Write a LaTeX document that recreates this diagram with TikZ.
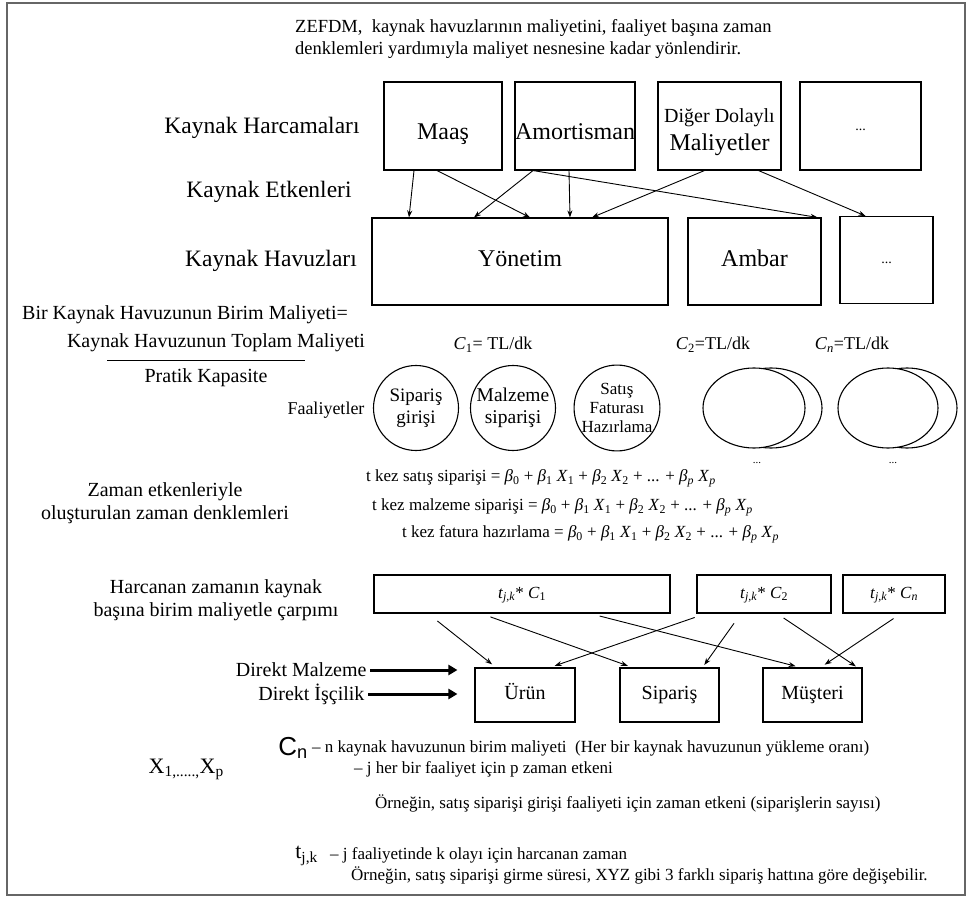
\documentclass[tikz,border=0pt]{standalone}
\usepackage{fontspec}
\setmainfont{Liberation Serif}
\setsansfont{Liberation Sans}
\usetikzlibrary{arrows.meta,positioning,calc,shapes.geometric}

\newcommand{\fsz}[1]{\fontsize{#1}{1.15\dimexpr #1pt\relax}\selectfont}
\newcommand{\bx}[1]{\textit{β}\textsubscript{#1}}
\newcommand{\xv}[1]{\textit{X}\textsubscript{#1}}
\newcommand{\eqrhs}{\bx{0} + \bx{1} \xv{1} + \bx{2} \xv{2} + ... + \bx{\textit{p}} \xv{\textit{p}}}
\newcommand{\tjk}{\textit{t}\textsubscript{\textit{j,k}}}

\tikzset{
    % Base box style
    box/.style={
        rectangle,
        draw=black,
        line width=1.1pt,
        fill=white,
        align=center,
        inner sep=0pt
    },
    % Resource expense boxes
    expense/.style={box, minimum width=120pt, minimum height=88pt, font=\fsz{24}},
    % Resource pool boxes
    pool/.style={box, minimum height=87pt, font=\fsz{24}, text height=16pt, text depth=5pt},
    % Activity circles
    activity/.style={circle, draw=black, line width=1.1pt, minimum size=85pt,
        inner sep=0pt, align=center},
    % Rate boxes and cost objects
    rate/.style={box, minimum height=38pt, font=\fsz{17}, text height=12pt, text depth=4pt},
    costobj/.style={box, minimum height=54pt, font=\fsz{20}, text height=14pt, text depth=5pt},
    % Arrow styles
    flow/.style={-{Stealth[length=7pt, width=5pt]}, line width=0.9pt},
    feed/.style={-{Triangle[length=9pt, width=10pt]}, line width=3pt},
    % Label styles
    side label/.style={font=\fsz{23.5}, align=center},
    note text/.style={font=\fsz{17}, anchor=west, inner sep=0pt}
}

\begin{document}
\begin{tikzpicture}[x=1pt, y=-1pt]
        \useasboundingbox (0,0) rectangle (972,901);
        % Outer frame
        \draw[line width=2pt, black!60] (7,3) rectangle (965,895);

        % Heading
        \node[font=\fsz{18.5}, align=left, anchor=west, inner sep=0pt] (heading) at (295,39)
            {ZEFDM,\ \ kaynak havuzlarının maliyetini, faaliyet başına zaman\\denklemleri yardımıyla maliyet nesnesine kadar yönlendirir.};

        % Resource expenses
        \node[side label] (harcama) at (262,128) {Kaynak Harcamaları};
        \node[expense, minimum width=118pt, text height=28pt, text depth=0pt] (maas) at (443,126) {Maaş};
        \node[expense, text height=27pt, text depth=0pt] (amort) at (575,126) {Amortisman};
        \node[expense, minimum width=123pt] (diger) at (719.5,126) {};
        \node[font=\fsz{24}, align=center, inner sep=0pt] (digertxt) at ([yshift=-6pt]diger.center) {{\fsz{20}Diğer Dolaylı}\\Maliyetler};
        \node[expense, minimum width=121pt, font=\fsz{14}, text height=10pt, text depth=0pt] (hdots) at (860.5,126) {...};

        % Resource pools
        \node[side label] (etken) at (269,192) {Kaynak Etkenleri};
        \node[side label] (havuz) at (271,261) {Kaynak Havuzları};
        \node[pool, minimum width=296pt] (yonetim) at (520,261.5) {Yönetim};
        \node[pool, minimum width=133pt] (ambar) at (754.5,261.5) {Ambar};
        \node[pool, minimum width=93pt, font=\fsz{14}, text height=8pt, text depth=0pt] (pdots) at (886.5,260) {...};

        \draw[flow] ([xshift=-29pt]maas.south) -- ([xshift=-111pt]yonetim.north);
        \draw[flow] ([xshift=-6pt]maas.south) -- ([xshift=10pt]yonetim.north);
        \draw[flow] ([xshift=-42pt]amort.south) -- ([xshift=-46pt]yonetim.north);
        \draw[flow] ([xshift=-6pt]amort.south) -- ([xshift=50pt]yonetim.north);
        \draw[flow] ([xshift=-42pt]amort.south) -- ([xshift=63pt]ambar.north);
        \draw[flow] ([xshift=-15pt]diger.south) -- ([xshift=72pt]yonetim.north);
        \draw[flow] ([xshift=39pt]diger.south) -- ([xshift=-21pt]pdots.north);

        % Unit cost of a pool
        \node[font=\fsz{20}] (birim) at (185,315) {Bir Kaynak Havuzunun Birim Maliyeti=};
        \node[font=\fsz{20}] (toplam) at (216,343) {Kaynak Havuzunun Toplam Maliyeti};
        \draw[line width=0.9pt] (107,360) -- (305,360);
        \node[font=\fsz{20}] (kapasite) at (206,378) {Pratik Kapasite};

        \node[font=\fsz{18}] (c1) at (493,345) {\textit{C}\textsubscript{1}= TL/dk};
        \node[font=\fsz{18}] (c2) at (713,345) {\textit{C}\textsubscript{2}=TL/dk};
        \node[font=\fsz{18}] (cn) at (852,345) {\textit{C}\textsubscript{\textit{n}}=TL/dk};

        % Activities
        \node[font=\fsz{18}, anchor=east] (faaliyet) at (368,410) {Faaliyetler};
        \node[activity, font=\fsz{19}] (siparis) at (416,408) {Sipariş\\girişi};
        \node[activity, font=\fsz{19.5}] (malzeme) at (513,408) {Malzeme\\[-1pt]siparişi};
        \node[activity, font=\fsz{17}] (fatura) at (617,408) {Satış\\[-1pt]Faturası\\[-1pt]Hazırlama};
        \draw[line width=1.1pt, fill=white] (771,408) ellipse (51pt and 40pt);
        \node[ellipse, draw=black, line width=1.1pt, fill=white, minimum width=102pt, minimum height=80pt] (act2) at (754,408) {};
        \draw[line width=1.1pt, fill=white] (907,408) ellipse (50pt and 40pt);
        \node[ellipse, draw=black, line width=1.1pt, fill=white, minimum width=100pt, minimum height=80pt] (actn) at (888,408) {};
        \node[font=\fsz{11}] (dots2) at (757,463) {...};
        \node[font=\fsz{11}] (dotsn) at (893,463) {...};

        % Time equations
        \node[side label, font=\fsz{20}] (zaman) at (165,503) {Zaman etkenleriyle\\oluşturulan zaman denklemleri};
        \node[note text] (eq1) at (366,478) {t kez satış siparişi = \eqrhs};
        \node[note text] (eq2) at (372,507) {t kez malzeme siparişi = \eqrhs};
        \node[note text] (eq3) at (402,534) {t kez fatura hazırlama = \eqrhs};

        % Rates times time
        \node[side label, font=\fsz{20}] (carpim) at (216,600) {Harcanan zamanın kaynak\\başına birim maliyetle çarpımı};
        \node[rate, minimum width=296pt] (r1) at (522,594) {\tjk* \textit{C}\textsubscript{1}};
        \node[rate, minimum width=134pt] (r2) at (764,594) {\tjk* \textit{C}\textsubscript{2}};
        \node[rate, minimum width=102pt] (rn) at (894,594) {\tjk* \textit{C}\textsubscript{\textit{n}}};

        % Cost objects
        \node[costobj, minimum width=100pt] (urun) at (525,695) {Ürün};
        \node[costobj, minimum width=99pt] (sip) at (669.5,695) {Sipariş};
        \node[costobj, minimum width=99pt] (must) at (812.5,695) {Müşteri};

        \node[font=\fsz{20}, anchor=east] (dmal) at (370,670) {Direkt Malzeme};
        \node[font=\fsz{20}, anchor=east] (disc) at (368,694) {Direkt İşçilik};
        \draw[feed, shorten >=17pt] (dmal.east) -- (dmal.east -| urun.west);
        \draw[feed, shorten >=17pt] (disc.east) -- (disc.east -| urun.west);

        \draw[flow, shorten <=12pt, shorten >=5pt] ([xshift=-94pt]r1.south) -- ([xshift=-29pt]urun.north);
        \draw[flow, shorten <=10pt, shorten >=5pt] ([xshift=-41pt]r1.south) -- ([xshift=-37pt]sip.north);
        \draw[flow, shorten <=10pt, shorten >=5pt] ([xshift=68pt]r1.south) -- ([xshift=-12pt]must.north);
        \draw[flow, shorten <=12pt, shorten >=5pt] ([xshift=-58pt]r2.south) -- ([xshift=25pt]urun.north);
        \draw[flow, shorten <=12pt, shorten >=3pt] ([xshift=-23pt]r2.south) -- ([xshift=33pt]sip.north);
        \draw[flow, shorten <=8pt, shorten >=2pt] ([xshift=13pt]r2.south) -- ([xshift=45pt]must.north);
        \draw[flow, shorten <=9pt, shorten >=5pt] ([xshift=7pt]rn.south) -- ([xshift=8pt]must.north);

        % Legend
        \node[font=\sffamily\fsz{26}, anchor=east, inner sep=0pt] (lcn) at (308,748) {C\textsubscript{n}};
        \node[note text] (lcntxt) at (312,748) {– n kaynak havuzunun birim maliyeti\ \ (Her bir kaynak havuzunun yükleme oranı)};
        \node[font=\fsz{22}, anchor=east, inner sep=0pt] (lx) at (224,769) {X\textsubscript{1,.....,}X\textsubscript{p}};
        \node[note text] (lxtxt) at (354,769) {– j her bir faaliyet için p zaman etkeni};
        \node[note text] (lxex) at (375,803) {Örneğin, satış siparişi girişi faaliyeti için zaman etkeni (siparişlerin sayısı)};
        \node[font=\fsz{22}, anchor=east, inner sep=0pt] (lt) at (318,856) {t\textsubscript{j,k}};
        \node[note text] (lttxt) at (330,855) {– j faaliyetinde k olayı için harcanan zaman};
        \node[note text] (ltex) at (351,875) {Örneğin, satış siparişi girme süresi, XYZ gibi 3 farklı sipariş hattına göre değişebilir.};
    \end{tikzpicture}
\end{document}
